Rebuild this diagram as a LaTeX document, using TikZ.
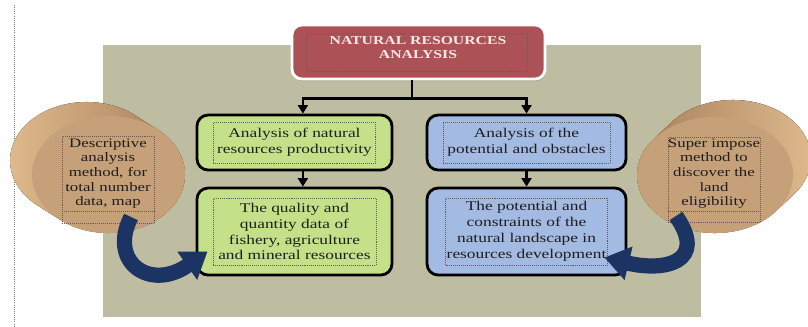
\documentclass[tikz,border=0pt]{standalone}
\usepackage{fontspec}
\setmainfont[FakeStretch=1.3]{Liberation Serif}
\usepackage{tikz}
\usetikzlibrary{arrows.meta}
\usetikzlibrary{positioning}
\usetikzlibrary{shadows}
\definecolor{bgolive}{RGB}{191,189,161}
\definecolor{titlered}{RGB}{172,82,86}
\definecolor{titletext}{RGB}{244,232,232}
\definecolor{boxgreen}{RGB}{196,225,138}
\definecolor{boxblue}{RGB}{163,186,226}
\definecolor{cylface}{RGB}{197,160,121}
\definecolor{cyllight}{RGB}{224,188,142}
\definecolor{cyldark}{RGB}{165,124,88}
\definecolor{ribbonblue}{RGB}{28,52,100}
\definecolor{framegray}{RGB}{105,90,90}
\definecolor{textdark}{RGB}{30,30,30}
\tikzstyle{every node}+=[inner sep=0pt]
\tikzstyle{block} = [rectangle, draw, line width=2pt, rounded corners=0.28cm, minimum height=1.375cm]
\tikzstyle{gbox} = [block, fill=boxgreen, minimum width=4.875cm]
\tikzstyle{bbox} = [block, fill=boxblue, minimum width=4.975cm]
\tikzstyle{titlebox} = [rectangle, draw=white, line width=2pt, rounded corners=0.25cm, fill=titlered, minimum width=6.325cm, minimum height=1.35cm, drop shadow={opacity=0.35, shadow xshift=0.6pt, shadow yshift=-1.6pt}]
\tikzstyle{textframe} = [rectangle, draw=framegray, densely dotted, line width=0.4pt, align=center, text=textdark, font=\fontsize{9.5}{11.3}\selectfont]
\tikzstyle{titletext} = [align=center, text=titletext, font=\bfseries\fontsize{8.6}{9.4}\selectfont]
\tikzstyle{drumtext} = [align=center, text=textdark, font=\fontsize{9.2}{10.4}\selectfont]
\tikzstyle{line} = [draw, line width=1.6pt, -{Triangle[length=6pt,width=7pt]}]
\tikzstyle{link} = [draw, line width=1.6pt]
\tikzstyle{ribbon} = [draw=ribbonblue, line width=0.38cm, -{Triangle[length=0.62cm,width=0.82cm]}]

\begin{document}
\begin{tikzpicture}[x=0.025cm, y=-0.025cm]
\useasboundingbox (0,0) rectangle (808,327);
% Backdrop
\draw [gray, densely dotted, line width=0.5pt] (14,5) -- (14,327);
\fill [bgolive] (103,45) rectangle (701,317);
% Left drum: side band, then face
\fill [left color=cyllight, right color=cyldark]
  (86.5,160.5) ++(50.2:1.9125cm and 1.4625cm)
  arc [start angle=50.2, end angle=230.2, x radius=1.9125cm, y radius=1.4625cm]
  -- ++(0.55cm,-0.35cm)
  arc [start angle=230.2, end angle=410.2, x radius=1.9125cm, y radius=1.4625cm] -- cycle;
\fill [cylface] (108.5,174.5) ellipse [x radius=1.9125cm, y radius=1.4625cm];
% Right drum
\fill [left color=cyldark, right color=cyllight]
  (733,158) ++(-38.2:1.95cm and 1.45cm)
  arc [start angle=-38.2, end angle=141.8, x radius=1.95cm, y radius=1.45cm]
  -- ++(-0.45cm,-0.425cm)
  arc [start angle=141.8, end angle=321.8, x radius=1.95cm, y radius=1.45cm] -- cycle;
\fill [cylface] (715,175) ellipse [x radius=1.95cm, y radius=1.45cm];
% Place nodes
\node [titlebox] (title) at (418.5,52) {};
\node [textframe, minimum width=5.525cm, minimum height=0.95cm] (tframe) at (416.5,52) {};
\node [titletext] (ttext) at (418,47.5) {NATURAL RESOURCES\\ANALYSIS};
\node [gbox, below of=title, node distance=2.2625cm, xshift=-3.1cm] (g1) {};
\node [textframe, minimum width=4.05cm, minimum height=1.025cm] (g1t) at (g1) {Analysis of natural\\resources productivity};
\node [bbox, below of=title, node distance=2.2625cm, xshift=2.7cm] (b1) {};
\node [textframe, minimum width=4.175cm, minimum height=1.025cm] (b1t) at (b1) {Analysis of the\\potential and obstacles};
\node [gbox, below of=g1, node distance=2.225cm, minimum height=2.175cm] (g2) {};
\node [textframe, minimum width=4.075cm, minimum height=1.675cm] (g2t) at (g2) {The quality and\\quantity data of\\fishery, agriculture\\and mineral resources};
\node [bbox, below of=b1, node distance=2.225cm, minimum height=2.175cm] (b2) {};
\node [textframe, minimum width=4.05cm, minimum height=1.675cm] (b2t) at (b2) {The potential and\\constraints of the\\natural landscape in\\resources development};
\node [textframe, minimum width=2.3cm, minimum height=2.175cm] (lbox) at (108,179.5) {};
\node [drumtext] (ltext) at (108,173.5) {Descriptive\\analysis\\method, for\\total number\\data, map};
\node [textframe, minimum width=2.3cm, minimum height=2.125cm] (rbox) at (714,179.5) {};
\node [drumtext] (rtext) at (714,173.5) {Super impose\\method to\\discover the\\land\\eligibility};
\draw [framegray, densely dotted, line width=0.4pt] ([yshift=0.3cm]lbox.south west) -- ([yshift=0.3cm]lbox.south east);
\draw [framegray, densely dotted, line width=0.4pt] ([yshift=0.28cm]rbox.south west) -- ([yshift=0.28cm]rbox.south east);
% Draw edges
\path [link] ([xshift=-0.16cm]title.south) -- ++(0,18) coordinate (split);
\path [line] (split) -| ([xshift=0.21cm]g1.north);
\path [line] (split) -| (b1.north);
\path [line] ([xshift=0.21cm]g1.south) -- ([xshift=0.21cm]g2.north);
\path [line] (b1.south) -- (b2.north);
% Curved arrows from the drums
\coordinate (lstart) at (131,217);
\coordinate (rstart) at (676,216);
\path [ribbon] (lstart) .. controls (108,262) and (150,292) .. ([shift={(12,20)}]g2.west);
\path [ribbon] (rstart) .. controls (708,262) and (665,272) .. ([shift={(-23,26)}]b2.east);
\end{tikzpicture}
\end{document}
